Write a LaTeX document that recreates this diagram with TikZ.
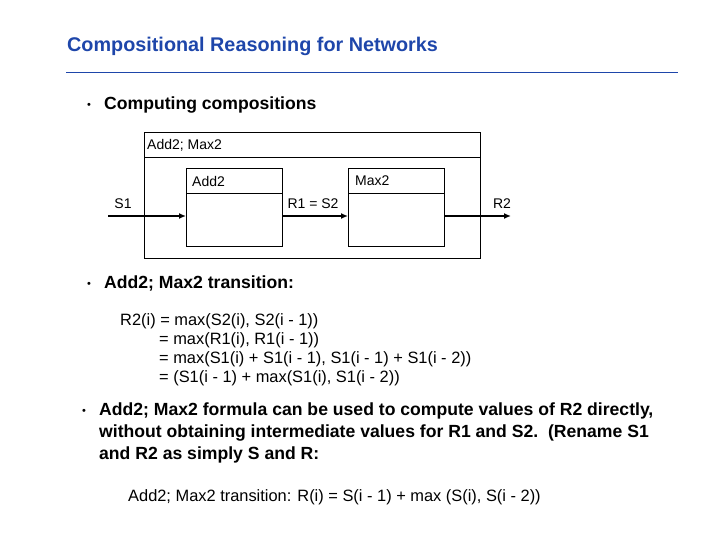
\documentclass[tikz,border=0pt]{standalone}
\usepackage{fontspec}
\setmainfont{Liberation Sans}
\usetikzlibrary{arrows.meta}
\definecolor{ttl}{RGB}{30,70,170}
\newcommand{\bul}{\makebox[17pt][l]{\fontsize{11}{11}\selectfont\mdseries\raisebox{1pt}{•}}}
\begin{document}
\begin{tikzpicture}[x=1pt,y=-1pt,
  txt/.style={anchor=west,inner sep=0pt,font=\fontsize{16.4}{18}\selectfont},
  btxt/.style={anchor=west,inner sep=0pt,font=\fontsize{17.6}{22}\selectfont\bfseries},
  lbl/.style={inner sep=0pt,font=\fontsize{14}{15}\selectfont},
  box/.style={draw,line width=0.8pt},
  arr/.style={-{Latex[length=7pt,width=6pt]},line width=1.6pt}]
\useasboundingbox (0,0) rectangle (720,540);
\node[anchor=west,inner sep=0pt,text=ttl,font=\fontsize{19.8}{22}\selectfont\bfseries] (title) at (67,46) {Compositional Reasoning for Networks};
\draw[ttl,line width=0.6pt] (66,72) coordinate (l1) -- (678,72) coordinate (l2);
\node[btxt] (b1) at (87,105) {\bul Computing compositions};
% diagram
\draw[box] (144,132) rectangle (480,258);
\draw[box] (144,157) -- (480,157);
\node[lbl,anchor=west] (outer) at (147,145) {Add2; Max2};
\draw[box] (186,168) rectangle (282,246);
\draw[box] (186,193) -- (282,193);
\node[lbl,anchor=west] (a2) at (192,181) {Add2};
\draw[box] (348,168) rectangle (444,246);
\draw[box] (348,193) -- (444,193);
\node[lbl,anchor=west] (m2) at (355,181) {Max2};
\coordinate (in) at (108,216);
\coordinate (ai) at (186,216);
\coordinate (ao) at (282,216);
\coordinate (mi) at (348,216);
\coordinate (mo) at (444,216);
\coordinate (out) at (511,216);
\draw[arr] (in) -- (ai);
\draw[arr] (ao) -- (mi);
\draw[arr] (mo) -- (out);
\node[lbl] (s1) at (123,204) {S1};
\node[lbl] (r1) at (313,204) {R1 = S2};
\node[lbl] (r2) at (502,204) {R2};
\node[btxt] (b2) at (87,283) {\bul Add2; Max2 transition:};
\node[txt] (f1) at (120,321) {R2(i) = max(S2(i), S2(i - 1))};
\node[txt] (f2) at (159,340) {= max(R1(i), R1(i - 1))};
\node[txt] (f3) at (159,359) {= max(S1(i) + S1(i - 1), S1(i - 1) + S1(i - 2))};
\node[txt] (f4) at (159,378) {= (S1(i - 1) + max(S1(i), S1(i - 2))};
\node[btxt,anchor=north west,align=left] (b3) at (82,403) {\bul Add2; Max2 formula can be used to compute values of R2 directly,\\
\hspace{17pt}without obtaining intermediate values for R1 and S2.\ \ (Rename S1\\
\hspace{17pt}and R2 as simply S and R:};
\node[txt] (last) at (128,497) {Add2; Max2 transition: R(i) = S(i - 1) + max (S(i), S(i - 2))};
\end{tikzpicture}
\end{document}
